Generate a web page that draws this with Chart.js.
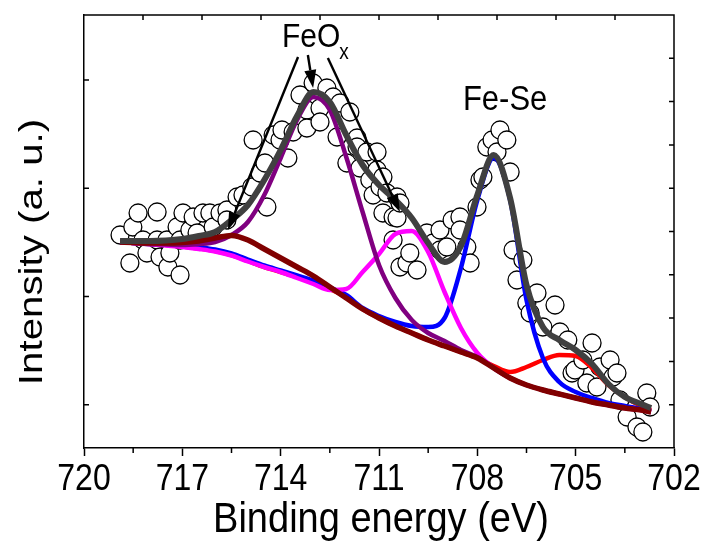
<!DOCTYPE html>
<html>
<head>
<meta charset="utf-8">
<script src="https://cdn.jsdelivr.net/npm/chart.js@4"></script>
<style>
  html, body { margin: 0; padding: 0; background: #fff; }
</style>
</head>
<body>
<canvas id="myChart" width="709" height="545"></canvas>
<script>
// binding energy grid of the fitted curves (eV)
const energies = [718.9, 718.5, 718, 717.5, 717, 716.5, 716, 715.5, 715, 714.5, 714, 713.5, 713, 712.5, 712, 711.5, 711,
  710.5, 710, 709.5, 709, 708.5, 708, 707.5, 707, 706.5, 706, 705.5, 705, 704.5, 704, 703.5, 703, 702.7];

const envelope = [207, 207, 207, 207.5, 209, 212, 216, 228, 243, 268, 298, 332, 356, 346, 313, 283, 263,
  248, 230, 205, 186, 202, 253, 293, 250, 163, 121, 108, 98, 84, 64, 51, 44, 40];
const fitSat = [206, 205.5, 205, 205, 205.5, 207, 210, 212.5, 208, 199, 190, 181, 172, 161, 150, 139, 130,
  122, 115, 108, 102, 96, 90, 80, 70, 63, 58, 54, 50, 46, 43, 40, 38, 36];
const fit7053 = [206, 205, 204, 203, 201.5, 199.5, 197, 193, 187, 181, 176, 171, 166, 159, 151, 139, 130,
  122, 115, 108, 102, 96, 90, 82, 76, 81, 88, 93, 92, 80, 63, 51, 42, 38];
const fit7075 = [206, 205, 204, 203.5, 203, 201, 198.5, 194.5, 188.5, 182.5, 177.5, 172.5, 167.5, 160.5, 153, 140, 132,
  126, 122, 121, 130, 180, 248, 290, 248, 148, 90, 66, 56, 50, 45, 42, 39, 37];
const fit7128 = [206, 205, 204, 203.5, 203, 204, 206, 213, 226, 253, 290, 328, 351, 338, 291, 236, 183,
  150, 128, 115, 107, 98, 91, 80, 70, 63, 58, 54, 50, 46, 43, 40, 38, 36];
const fit7102 = [206, 205, 204, 202.5, 201, 199, 196.5, 192.5, 186.5, 181, 176, 170, 164, 158, 159, 176, 194,
  214, 217, 196, 156, 120, 95, 80, 70, 63, 58, 54, 50, 46, 43, 40, 38, 36];

// measured spectrum (open circles)
const measE = [718.90, 718.60, 718.51, 718.35, 718.20, 718.08, 717.77, 717.77, 717.68, 717.47,
  717.44, 717.38, 717.16, 717.07, 717.07, 716.98, 716.77, 716.67, 716.55, 716.37,
  716.16, 716.06, 715.85, 715.64, 715.64, 715.33, 715.15, 714.88, 714.84, 714.63,
  714.48, 714.42, 714.23, 714.02, 713.96, 713.78, 713.62, 713.41, 713.20, 713.20,
  713.01, 712.80, 712.80, 712.59, 712.40, 712.28, 712.19, 711.98, 711.89, 711.67,
  711.67, 711.58, 711.37, 711.28, 711.18, 711.06, 711.06, 710.97, 710.88, 710.88,
  710.76, 710.57, 710.45, 710.45, 710.36, 710.57, 710.36, 710.15, 710.06, 709.84,
  709.54, 709.35, 709.14, 709.14, 708.93, 708.77, 708.53, 708.53, 708.32, 708.22,
  708.01, 707.92, 707.83, 707.71, 707.55, 707.40, 707.31, 707.10, 707.00, 706.91,
  706.79, 706.61, 706.49, 706.39, 706.18, 706.00, 705.63, 705.48, 705.24, 705.11,
  705.02, 704.78, 704.66, 704.50, 704.35, 704.26, 703.95, 703.86, 703.74, 703.65,
  703.43, 703.13, 702.95, 702.83, 702.73];
const measI = [213, 185, 221, 235, 208, 195, 236, 208, 191, 208,
  181, 195, 221, 208, 173, 235, 218, 231, 215, 235,
  235, 221, 235, 238, 228, 251, 253, 261, 308, 275,
  285, 241, 313, 308, 318, 290, 316, 353, 338, 320,
  365, 340, 326, 360, 351, 311, 345, 285, 336, 310,
  301, 280, 296, 268, 253, 296, 278, 261, 271, 235,
  255, 231, 251, 230, 245, 208, 181, 185, 195, 178,
  215, 205, 218, 198, 201, 228, 231, 218, 201, 185,
  241, 268, 271, 301, 308, 296, 318, 308, 276, 198,
  168, 188, 145, 135, 155, 121, 143, 116, 108, 75,
  78, 88, 65, 105, 61, 81, 88, 71, 75, 48,
  31, 21, 16, 55, 41];

// axis tick positions
const xMajorTicks = [720, 717, 714, 711, 708, 705, 702];
const xMinorTicks = [718.5, 715.5, 712.5, 709.5, 706.5, 703.5];
const topTicks = [718.2, 716.4, 714.6, 712.8, 711, 709.2, 707.4, 705.6, 703.8];
const leftTicks = [43.3, 151.6, 259.8, 368.1];
const rightTicks = [43.3, 86.6, 129.9, 173.2, 216.5, 259.8, 303.1, 346.4, 389.7];

// annotation anchors [E, I]
const arrows = [
  [[713.47, 391], [715.61, 218]],
  [[713.17, 393], [713.01, 360]],
  [[712.56, 390], [710.36, 236]]
];
const feoxAt = [713.96, 401];
const fesecAt = [708.44, 338];

const sans = "'Liberation Sans', Arial, sans-serif";

function curve(arr) {
  return energies.map((e, i) => ({x: e, y: arr[i]}));
}

function lineSet(arr, color, w) {
  return {
    data: curve(arr),
    showLine: true,
    borderColor: color,
    borderWidth: w,
    pointRadius: 0,
    cubicInterpolationMode: 'monotone',
    fill: false
  };
}

// text in the original is a bit taller than wide, so stretch it vertically
function tallText(ctx, str, x, y, size, sy, align) {
  ctx.save();
  ctx.translate(x, y);
  ctx.scale(1, sy);
  ctx.font = size + 'px ' + sans;
  ctx.textAlign = align;
  ctx.textBaseline = 'alphabetic';
  ctx.fillText(str, 0, 0);
  ctx.restore();
}

const decor = {
  id: 'decor',
  afterDatasetsDraw(chart) {
    const {ctx, chartArea: a, scales: {x, y}} = chart;
    ctx.save();
    ctx.strokeStyle = '#000';
    ctx.fillStyle = '#000';
    ctx.lineWidth = 1.5;
    ctx.beginPath();
    ctx.moveTo(a.left, a.top);
    ctx.lineTo(a.right, a.top);
    ctx.lineTo(a.right, a.bottom);
    ctx.stroke();

    ctx.beginPath();
    topTicks.forEach(e => {
      const px = x.getPixelForValue(e);
      ctx.moveTo(px, a.top);
      ctx.lineTo(px, a.top + 5);
    });
    xMinorTicks.forEach(e => {
      const px = x.getPixelForValue(e);
      ctx.moveTo(px, a.bottom);
      ctx.lineTo(px, a.bottom + 5);
    });
    leftTicks.forEach(v => {
      const py = y.getPixelForValue(v);
      ctx.moveTo(a.left, py);
      ctx.lineTo(a.left + 5, py);
    });
    rightTicks.forEach(v => {
      const py = y.getPixelForValue(v);
      ctx.moveTo(a.right, py);
      ctx.lineTo(a.right - 5, py);
    });
    ctx.stroke();

    // arrows
    ctx.lineWidth = 2.4;
    arrows.forEach(([p0, p1]) => {
      const x0 = x.getPixelForValue(p0[0]), y0 = y.getPixelForValue(p0[1]);
      const x1 = x.getPixelForValue(p1[0]), y1 = y.getPixelForValue(p1[1]);
      const ang = Math.atan2(y1 - y0, x1 - x0);
      const hl = 18, hw = 6;
      const bx = x1 - hl * Math.cos(ang), by = y1 - hl * Math.sin(ang);
      ctx.beginPath();
      ctx.moveTo(x0, y0);
      ctx.lineTo(bx, by);
      ctx.stroke();
      ctx.beginPath();
      ctx.moveTo(x1, y1);
      ctx.lineTo(bx + hw * Math.sin(ang), by - hw * Math.cos(ang));
      ctx.lineTo(bx - hw * Math.sin(ang), by + hw * Math.cos(ang));
      ctx.closePath();
      ctx.fill();
    });

    // peak labels
    const fx = x.getPixelForValue(feoxAt[0]), fy = y.getPixelForValue(feoxAt[1]);
    tallText(ctx, 'FeO', fx, fy, 30, 1.12, 'left');
    ctx.font = '30px ' + sans;
    const w = ctx.measureText('FeO').width;
    tallText(ctx, 'x', fx + w - 1, fy + 12, 19, 1.12, 'left');
    tallText(ctx, 'Fe-Se', x.getPixelForValue(fesecAt[0]), y.getPixelForValue(fesecAt[1]), 31, 1.13, 'left');

    // x tick labels and axis titles
    xMajorTicks.forEach(v => {
      tallText(ctx, String(v), x.getPixelForValue(v), 490, 32, 1.18, 'center');
    });
    tallText(ctx, 'Binding energy (eV)', (a.left + a.right) / 2 + 2, 532, 38, 1.1, 'center');

    ctx.save();
    ctx.translate(41.5, 252);
    ctx.rotate(-Math.PI / 2);
    ctx.scale(1.22, 1);
    ctx.font = '33px ' + sans;
    ctx.textAlign = 'center';
    ctx.textBaseline = 'alphabetic';
    ctx.fillText('Intensity (a. u.)', 0, 0);
    ctx.restore();

    ctx.restore();
  }
};

new Chart(document.getElementById('myChart'), {
  type: 'scatter',
  data: {
    datasets: [
      lineSet(envelope, '#404040', 6),
      lineSet(fitSat, '#800000', 5.5),
      lineSet(fit7128, '#800080', 4.5),
      lineSet(fit7102, '#ff00ff', 4.5),
      lineSet(fit7075, '#0000ff', 4.5),
      lineSet(fit7053, '#ff0000', 4.5),
      {
        data: measE.map((e, i) => ({x: e, y: measI[i]})),
        pointRadius: 9,
        pointBackgroundColor: '#fff',
        pointBorderColor: '#000',
        pointBorderWidth: 1.3
      }
    ]
  },
  options: {
    responsive: false,
    devicePixelRatio: 1,
    animation: false,
    layout: { padding: { top: 15, right: 35, left: 0, bottom: 0 } },
    plugins: { legend: { display: false }, tooltip: { enabled: false } },
    scales: {
      x: {
        type: 'linear',
        position: 'bottom',
        min: 702,
        max: 720,
        reverse: true,
        afterBuildTicks(s) { s.ticks = xMajorTicks.map(v => ({value: v})); },
        ticks: { color: 'rgba(0,0,0,0)', font: { family: sans, size: 32 }, padding: 2, maxRotation: 0, autoSkip: false },
        grid: { drawOnChartArea: false, drawTicks: true, tickLength: 8, tickColor: '#000', tickWidth: 1.5 },
        border: { display: true, color: '#000', width: 1.5 },
        title: { display: false },
        afterFit(s) { s.height = 97; }
      },
      y: {
        min: 0,
        max: 433,
        ticks: { display: false },
        grid: { display: false },
        border: { display: true, color: '#000', width: 1.5 },
        afterFit(s) { s.width = 84; }
      }
    }
  },
  plugins: [decor]
});
</script>
</body>
</html>
